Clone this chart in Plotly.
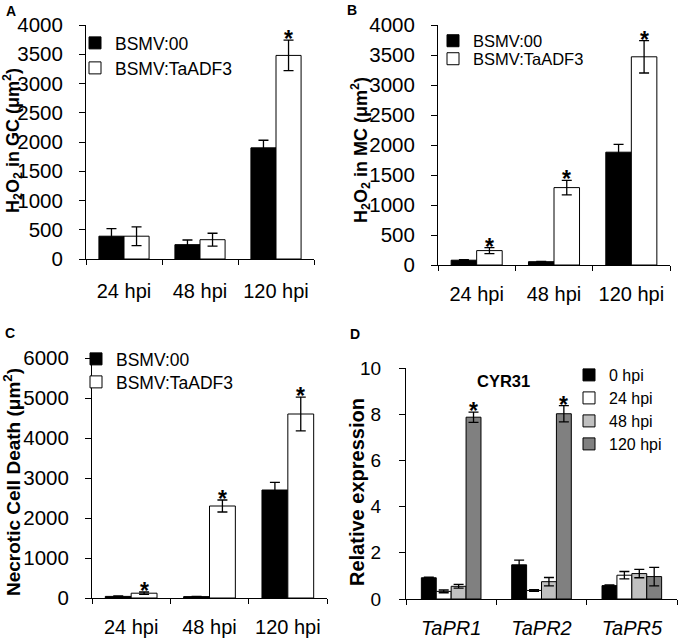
import plotly.graph_objects as go

W, H = 680, 641

# ---------------- data ----------------
hpi_cats = ["24 hpi", "48 hpi", "120 hpi"]

A_bsmv00 = [390, 245, 1900]
A_bsmv00_err = [130, 80, 130]
A_taadf3 = [390, 330, 3480]
A_taadf3_err = [160, 110, 260]
A_sig = [False, False, True]

B_bsmv00 = [80, 55, 1880]
B_bsmv00_err = [10, 5, 130]
B_taadf3 = [240, 1290, 3470]
B_taadf3_err = [50, 120, 270]
B_sig = [True, True, True]

C_bsmv00 = [40, 35, 2700]
C_bsmv00_err = [10, 5, 190]
C_taadf3 = [120, 2300, 4600]
C_taadf3_err = [30, 150, 420]
C_sig = [True, True, True]

genes = ["TaPR1", "TaPR2", "TaPR5"]
D_series = ["0 hpi", "24 hpi", "48 hpi", "120 hpi"]
D_values = [
    [0.92, 1.48, 0.58],
    [0.33, 0.37, 1.03],
    [0.55, 0.75, 1.10],
    [7.87, 8.02, 0.97],
]
D_errors = [
    [0.03, 0.20, 0.03],
    [0.06, 0.04, 0.16],
    [0.08, 0.18, 0.18],
    [0.22, 0.35, 0.40],
]
D_sig = [[False] * 3, [False] * 3, [False] * 3, [True, True, False]]

y_titles = [
    "<b>H<sub>2</sub>O<sub>2</sub> in GC (μm<sup>2</sup>)</b>",
    "<b>H<sub>2</sub>O<sub>2</sub> in MC (μm<sup>2</sup>)</b>",
    "<b>Necrotic Cell Death (μm<sup>2</sup>)</b>",
    "<b>Relative expression</b>",
]

# ---------------- styles ----------------
FONT = "Liberation Sans, Arial, sans-serif"
BARGAP = 0.34
D_colors = ["#000000", "#ffffff", "#c0c0c0", "#808080"]


def px_x(p):
    return p / W


def px_y(p):
    return 1 - p / H


fig = go.Figure()


def add_bar(x, y, err, name, color, n, legend):
    fig.add_trace(go.Bar(
        x=x, y=y, name=name,
        marker=dict(color=color, line=dict(color="black", width=1)),
        error_y=dict(type="data", array=err, visible=True, color="black",
                     thickness=1.3, width=5),
        xaxis="x" + ("" if n == 1 else str(n)),
        yaxis="y" + ("" if n == 1 else str(n)),
        legend=legend,
    ))


legend_counter = [0]
legends = {}


def new_legend(text_px, row_px, size):
    legend_counter[0] += 1
    k = legend_counter[0]
    key = "legend" if k == 1 else "legend%d" % k
    legends[key] = dict(
        x=px_x(text_px - 44), y=px_y(row_px), xanchor="left", yanchor="middle",
        bgcolor="rgba(0,0,0,0)", borderwidth=0,
        font=dict(family=FONT, size=size, color="black"),
    )
    return key


# Panels A-C
panels = [
    (1, A_bsmv00, A_bsmv00_err, A_taadf3, A_taadf3_err, A_sig, 119, (43, 68), 17.5),
    (2, B_bsmv00, B_bsmv00_err, B_taadf3, B_taadf3_err, B_sig, 477, (41, 59), 16.5),
    (3, C_bsmv00, C_bsmv00_err, C_taadf3, C_taadf3_err, C_sig, 120, (359, 382), 17.5),
]

STAR_FONT = dict(family=FONT, size=23, color="black")

annotations = []
for n, v0, e0, v1, e1, sig, tx, rows, lsz in panels:
    add_bar(hpi_cats, v0, e0, "BSMV:00", "black", n, new_legend(tx, rows[0], lsz))
    add_bar(hpi_cats, v1, e1, "BSMV:TaADF3", "white", n, new_legend(tx, rows[1], lsz))
    bw = (1 - BARGAP) / 2
    for i, s in enumerate(sig):
        if s:
            annotations.append(dict(
                x=i + bw / 2, y=v1[i] + e1[i],
                xref="x" + ("" if n == 1 else str(n)), yref="y" + ("" if n == 1 else str(n)),
                text="<b>*</b>", showarrow=False, yanchor="middle", yshift=1,
                font=STAR_FONT,
            ))

# Panel D
D_rows = [375, 398, 421, 444]
bwd = (1 - BARGAP) / 4
for k, name in enumerate(D_series):
    add_bar(genes, D_values[k], D_errors[k], name, D_colors[k], 4,
            new_legend(613, D_rows[k], 16))
    for i, s in enumerate(D_sig[k]):
        if s:
            annotations.append(dict(
                x=i + (k - 1.5) * bwd, y=D_values[k][i] + D_errors[k][i],
                xref="x4", yref="y4", text="<b>*</b>", showarrow=False,
                yanchor="middle", yshift=1, font=STAR_FONT,
            ))

# panel letters and inner title
for letter, lx, ly in [("A", 11, 11), ("B", 352, 10), ("C", 10, 333), ("D", 355, 334)]:
    annotations.append(dict(x=px_x(lx), y=px_y(ly), xref="paper", yref="paper",
                            text="<b>%s</b>" % letter, showarrow=False,
                            xanchor="center", yanchor="middle",
                            font=dict(family=FONT, size=14, color="black")))
annotations.append(dict(x=px_x(503), y=px_y(381), xref="paper", yref="paper",
                        text="<b>CYR31</b>", showarrow=False,
                        xanchor="center", yanchor="middle",
                        font=dict(family=FONT, size=16.5, color="black")))

# y-axis titles (rotated)
for title, (tx, ty), tsize in zip(y_titles, [(12, 141), (360, 150), (12, 482), (357, 492)],
                                  [18, 18, 19, 20]):
    annotations.append(dict(x=px_x(tx), y=px_y(ty), xref="paper", yref="paper",
                            text=title, textangle=-90, showarrow=False,
                            xanchor="center", yanchor="middle",
                            font=dict(family=FONT, size=tsize, color="black")))


def xaxis(dom, anchor, tickfont, standoff, italic=False):
    return dict(domain=[px_x(dom[0]), px_x(dom[1])], anchor=anchor, automargin=False,
                showline=True, linecolor="black",
                linewidth=1, ticks="outside", ticklen=5, tickcolor="black",
                tickson="boundaries", showgrid=False, zeroline=False,
                ticklabelstandoff=standoff,
                tickfont=dict(family=FONT, size=tickfont, color="black",
                              style="italic" if italic else "normal"))


def yaxis(dom, anchor, rng, dtick, tickfont=20.5, tstand=12):
    return dict(domain=[px_y(dom[1]), px_y(dom[0])], anchor=anchor, range=rng,
                automargin=False,
                dtick=dtick, showline=True, linecolor="black", linewidth=1,
                ticks="outside", ticklen=6, tickcolor="black", showgrid=False,
                zeroline=False, ticklabelstandoff=tstand,
                tickfont=dict(family=FONT, size=tickfont, color="black"))


layout = dict(
    width=W, height=H, margin=dict(l=0, r=0, t=0, b=0, autoexpand=False),
    paper_bgcolor="white", plot_bgcolor="white",
    barmode="group", bargap=BARGAP, bargroupgap=0,
    showlegend=True, annotations=annotations,
    xaxis=xaxis((86, 314), "y", 20, 14),
    yaxis=yaxis((25, 259), "x", [0, 4000], 500),
    xaxis2=xaxis((438, 670), "y2", 20, 11),
    yaxis2=yaxis((25, 265), "x2", [0, 4000], 500),
    xaxis3=xaxis((92, 327), "y3", 20, 11),
    yaxis3=yaxis((358, 598), "x3", [0, 6000], 1000),
    xaxis4=xaxis((406, 677), "y4", 20, 11, italic=True),
    yaxis4=yaxis((368, 599), "x4", [0, 10], 2, tickfont=19, tstand=14),
)
layout.update(legends)
fig.update_layout(**layout)

fig.write_html("out.html", config={"displayModeBar": False},
               post_script="document.body.style.margin='0px';"
                           "document.body.style.overflow='hidden';")
